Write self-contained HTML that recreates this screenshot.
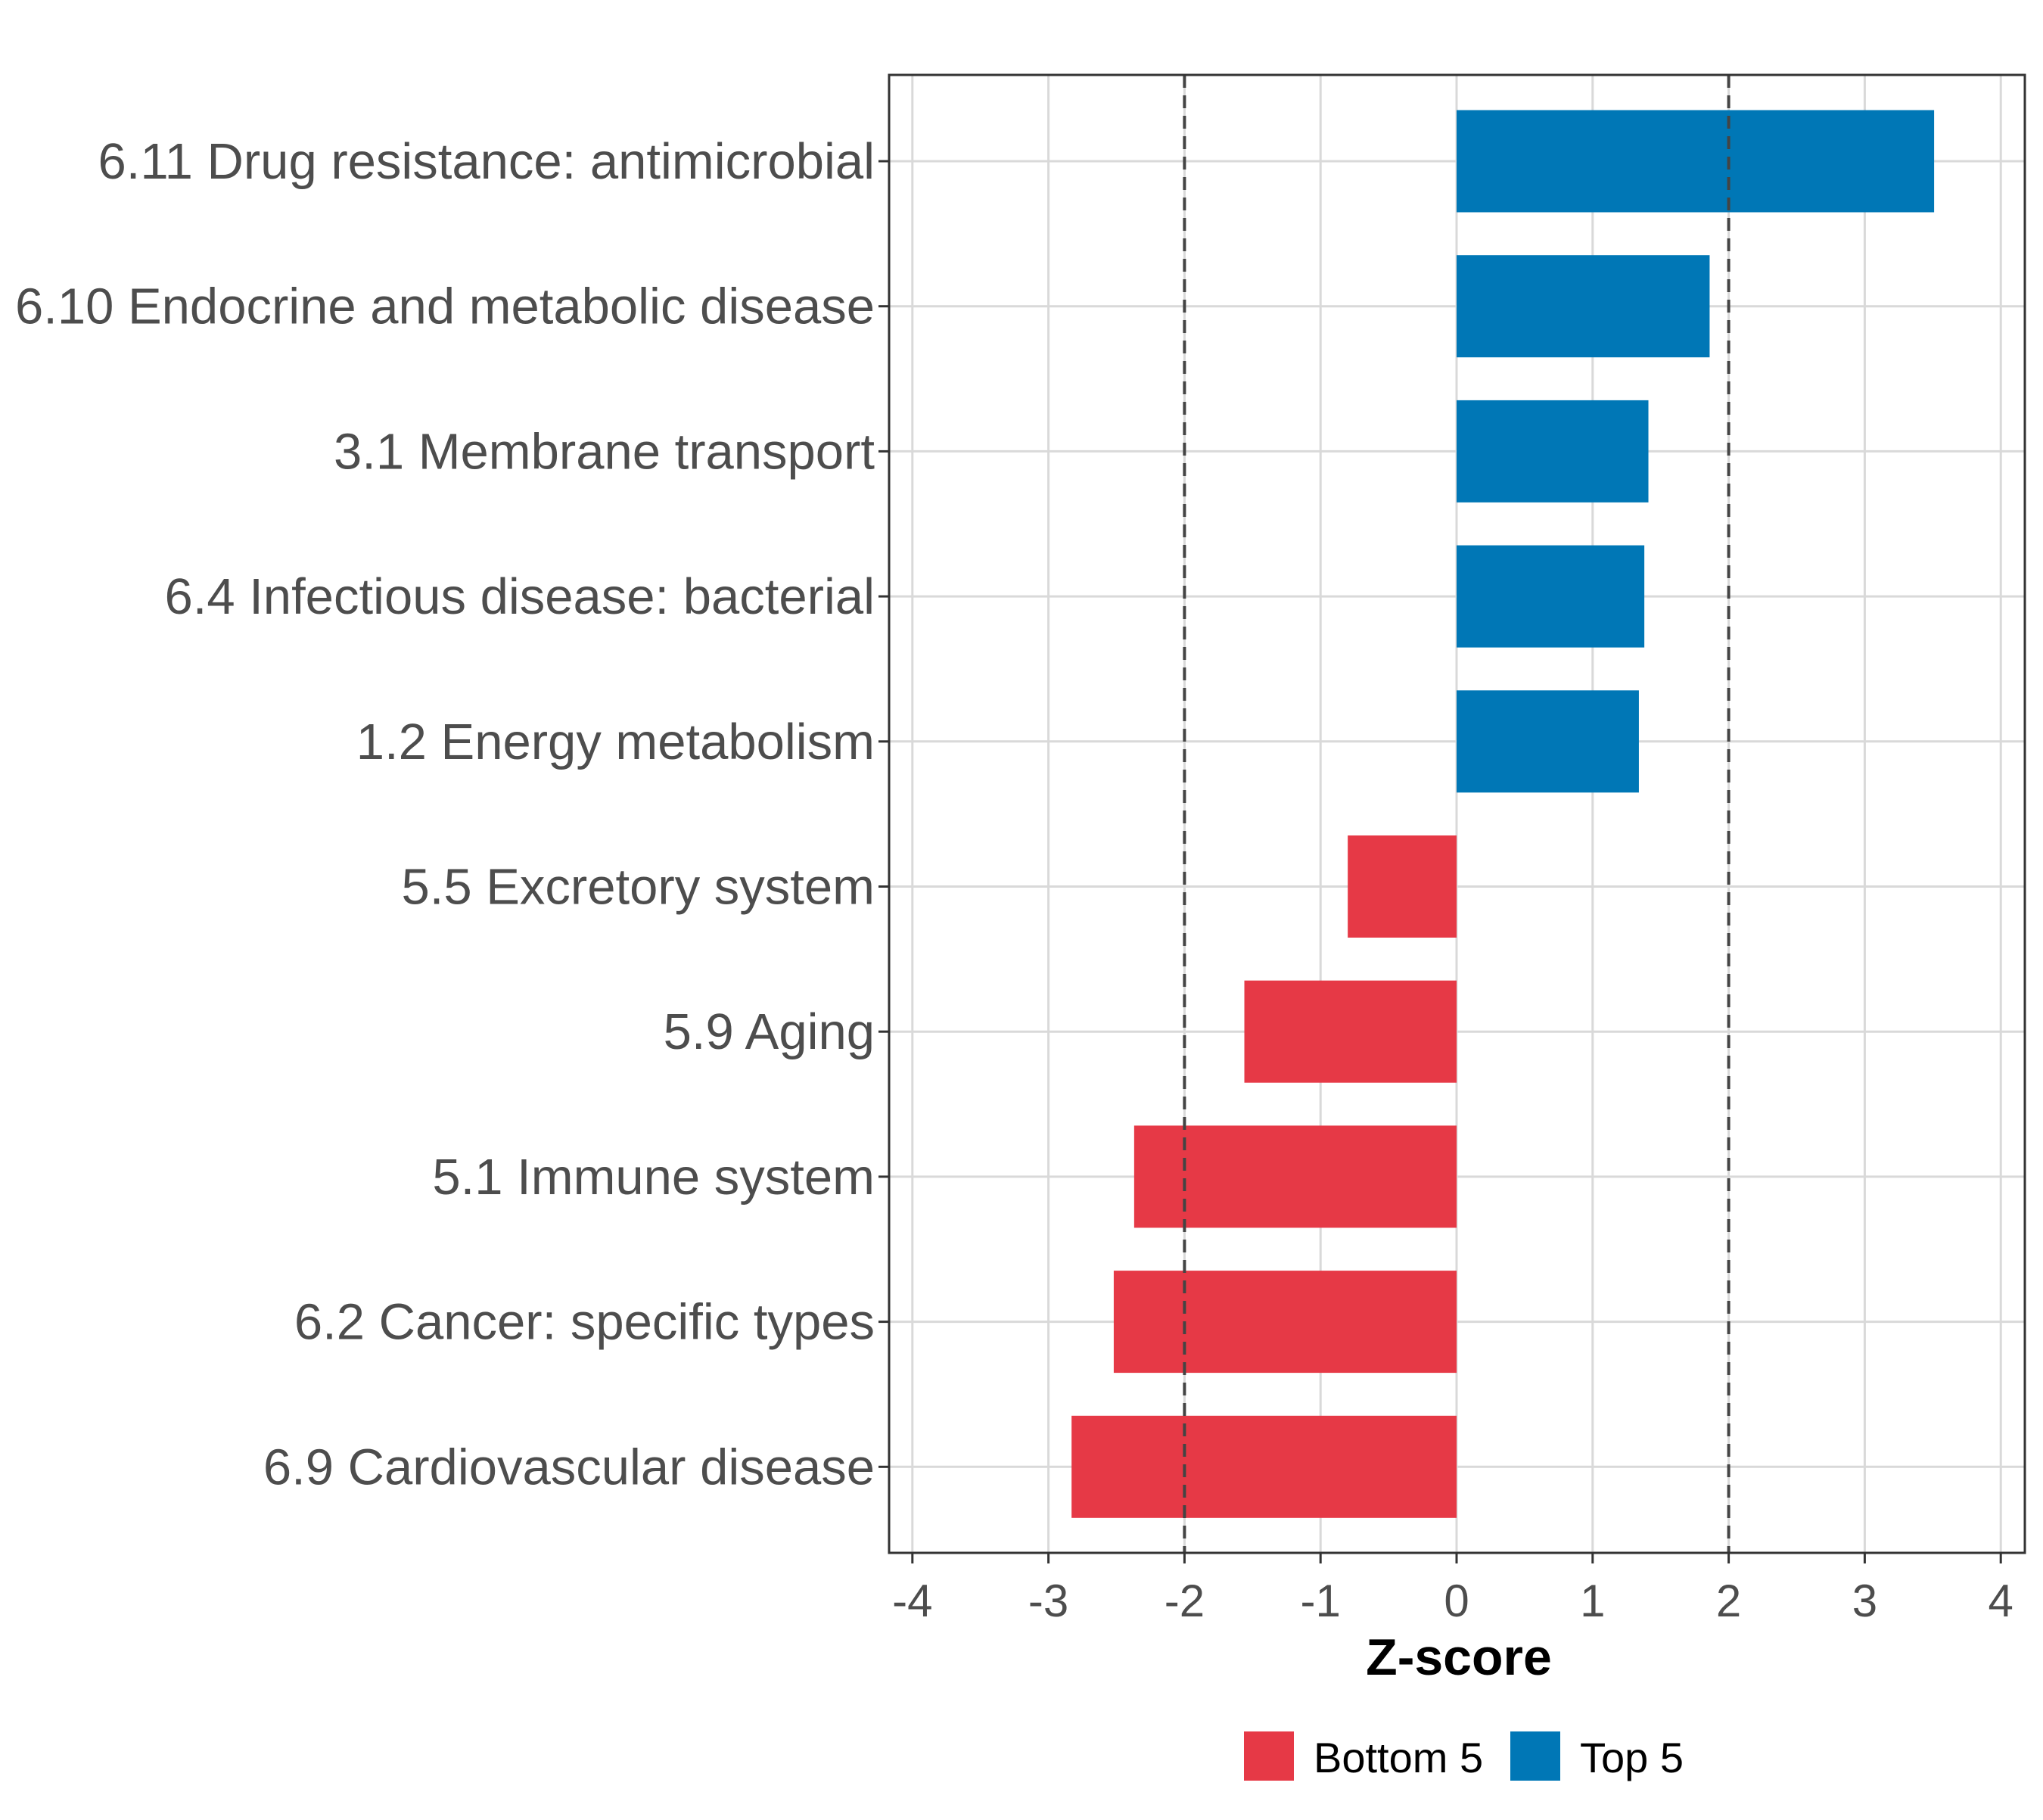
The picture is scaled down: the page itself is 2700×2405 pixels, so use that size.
<!DOCTYPE html>
<html><head><meta charset="utf-8"><style>
html,body{margin:0;padding:0;background:#fff;}
svg text{font-family:"Liberation Sans",sans-serif;}
</style></head><body>
<svg id="chart" width="2700" height="2400" xmlns="http://www.w3.org/2000/svg">
<rect width="2700" height="2400" fill="#fff"/>
<g id="grid"></g><g id="bars"></g><g id="ylabels"></g><g id="xticks"></g>
</svg>
<script>
const categories = ["6.11 Drug resistance: antimicrobial","6.10 Endocrine and metabolic disease","3.1 Membrane transport","6.4 Infectious disease: bacterial","1.2 Energy metabolism","5.5 Excretory system","5.9 Aging","5.1 Immune system","6.2 Cancer: specific types","6.9 Cardiovascular disease"];
const zscores = [3.51, 1.86, 1.41, 1.38, 1.34, -0.80, -1.56, -2.37, -2.52, -2.83];
const groups = ["Top 5","Top 5","Top 5","Top 5","Top 5","Bottom 5","Bottom 5","Bottom 5","Bottom 5","Bottom 5"];
const xTicks = [-4,-3,-2,-1,0,1,2,3,4];
const thresholds = [-2, 2];

const NS="http://www.w3.org/2000/svg";
const L=1175,R=2676,T=99,B=2052;
const x0=1925, unit=179.8;
const xs=v=>x0+v*unit;
const rowStep=191.7, row0=213, barH=135;
const ys=i=>row0+i*rowStep;
const colors={"Top 5":"#0077B6","Bottom 5":"#E63946"};
function mk(tag,attrs,parent,txt){const e=document.createElementNS(NS,tag);for(const k in attrs)e.setAttribute(k,attrs[k]);if(txt!==undefined)e.textContent=txt;parent.appendChild(e);return e;}
const grid=document.getElementById('grid'),bars=document.getElementById('bars'),yl=document.getElementById('ylabels'),xt=document.getElementById('xticks');
xTicks.forEach(v=>{const g=mk('line',{x1:xs(v),x2:xs(v),y1:T,y2:B,stroke:'#d9d9d9','stroke-width':3},grid);

});
categories.forEach((c,i)=>{const g=mk('line',{x1:L,x2:R,y1:ys(i),y2:ys(i),stroke:'#d9d9d9','stroke-width':3},grid);

});
categories.forEach((c,i)=>{const v=zscores[i];
const r=mk('rect',{x:Math.min(xs(0),xs(v)),y:ys(i)-barH/2,width:Math.abs(xs(v)-xs(0)),height:barH,fill:colors[groups[i]]},bars);


const t=mk('line',{x1:L-14,x2:L,y1:ys(i),y2:ys(i),stroke:'#333','stroke-width':3},yl);


const lb=mk('text',{x:1156,y:ys(i)+23,'text-anchor':'end','font-size':67,fill:'#4d4d4d'},yl,c);

});
thresholds.forEach(v=>{const d=mk('line',{x1:xs(v),x2:xs(v),y1:T,y2:B,stroke:'#444','stroke-width':4,'stroke-dasharray':'17,10'},bars);

});
const fr=mk('rect',{x:L,y:T,width:R-L,height:B-T,fill:'none',stroke:'#333','stroke-width':3},bars);


xTicks.forEach(v=>{const t=mk('line',{x1:xs(v),x2:xs(v),y1:B,y2:B+14,stroke:'#333','stroke-width':3},xt);


const lb=mk('text',{x:xs(v),y:2136,'text-anchor':'middle','font-size':60,fill:'#4d4d4d'},xt,String(v));

});
</script>
<svg style="position:absolute;left:0;top:0" width="2700" height="2400" xmlns="http://www.w3.org/2000/svg">
<text x="1928" y="2213" text-anchor="middle" font-size="68" font-weight="bold" fill="#000" font-family="Liberation Sans, sans-serif">Z-score</text>
<g>
<rect x="1644" y="2288" width="66" height="65" fill="#E63946"/>
<text x="1736" y="2342" font-size="56" fill="#000" font-family="Liberation Sans, sans-serif">Bottom 5</text>
<rect x="1996" y="2288" width="66" height="65" fill="#0077B6"/>
<text x="2088" y="2342" font-size="56" fill="#000" font-family="Liberation Sans, sans-serif">Top 5</text>
</g>
</svg>
</body></html>
